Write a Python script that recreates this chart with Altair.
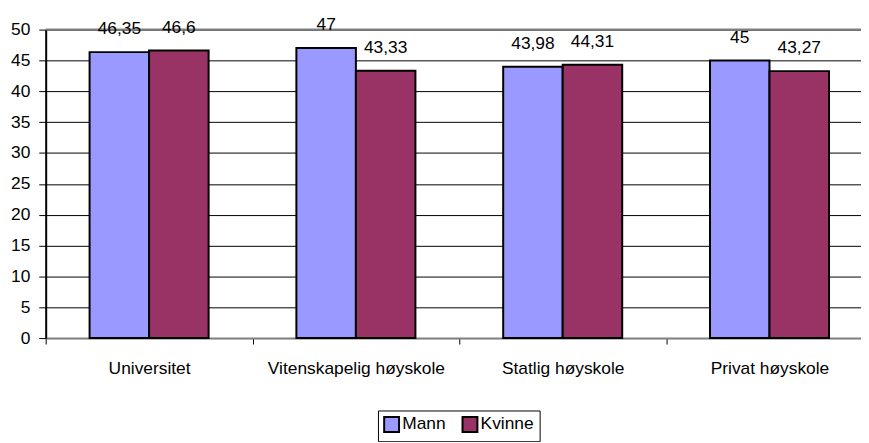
import altair as alt
import pandas as pd

categories = ["Universitet", "Vitenskapelig høyskole", "Statlig høyskole", "Privat høyskole"]
series = ["Mann", "Kvinne"]
mann = [46.35, 47, 43.98, 45]
kvinne = [46.6, 43.33, 44.31, 43.27]
colors = ["#9999FF", "#993366"]
y_ticks = [0, 5, 10, 15, 20, 25, 30, 35, 40, 45, 50]

FONT = "Liberation Sans"
FS = 17.5

rows = []
for c, m, k in zip(categories, mann, kvinne):
    rows.append({"kategori": c, "kjonn": "Mann", "verdi": m})
    rows.append({"kategori": c, "kjonn": "Kvinne", "verdi": k})
df = pd.DataFrame(rows)
df["etikett"] = df["verdi"].map(lambda v: f"{v:g}".replace(".", ","))

x = alt.X(
    "kategori:N", sort=categories,
    scale=alt.Scale(range=[0, 834], paddingInner=0, paddingOuter=0),
    axis=alt.Axis(title=None, labelAngle=0, tickBand="extent", domainColor="#808080",
                  domainWidth=2, tickColor="#000000", tickSize=6, tickWidth=1,
                  labelPadding=16, labelFont=FONT, labelFontSize=FS, labelColor="#000000",
                  labelLimit=0, grid=False),
)
xo = alt.XOffset("kjonn:N", sort=series,
                 scale=alt.Scale(paddingInner=0, paddingOuter=0.7375))
y = alt.Y(
    "verdi:Q", scale=alt.Scale(domain=[0, 50]),
    axis=alt.Axis(values=y_ticks, title=None, grid=True, gridColor="#000000", gridWidth=1,
                  domainColor="#000000", domainWidth=2, tickColor="#000000", tickSize=7,
                  labelPadding=9, labelFont=FONT, labelFontSize=FS, labelColor="#000000",
                  labelOverlap=False),
)

base = alt.Chart(df)

bars = base.mark_bar(stroke="black", strokeWidth=2).encode(
    x=x, xOffset=xo, y=y,
    color=alt.Color(
        "kjonn:N", sort=series,
        scale=alt.Scale(domain=series, range=colors),
        legend=alt.Legend(title=None, orient="none", legendX=335, legendY=384,
                          direction="horizontal", symbolType="square", symbolSize=225,
                          symbolStrokeColor="black", symbolStrokeWidth=2,
                          labelFont=FONT, labelFontSize=FS, labelColor="black",
                          strokeColor="black", padding=5,
                          columnPadding=12, labelOffset=2, fillColor="white"),
    ),
)

labels = base.mark_text(dy=-18, baseline="alphabetic", font=FONT, fontSize=FS,
                        color="black").encode(x=x, xOffset=xo, y=y, text="etikett:N")

top = alt.Chart(pd.DataFrame({"verdi": [50]})).mark_rule(
    color="#808080", strokeWidth=2).encode(y=y)

chart = alt.layer(top, bars, labels).properties(
    width=822, height=311,
    autosize=alt.AutoSizeParams(type="none"),
    padding={"left": 38, "top": 20, "right": 0, "bottom": 103},
).configure_view(stroke=None)

chart.save("out.html", embed_options={"renderer": "svg", "actions": False})
